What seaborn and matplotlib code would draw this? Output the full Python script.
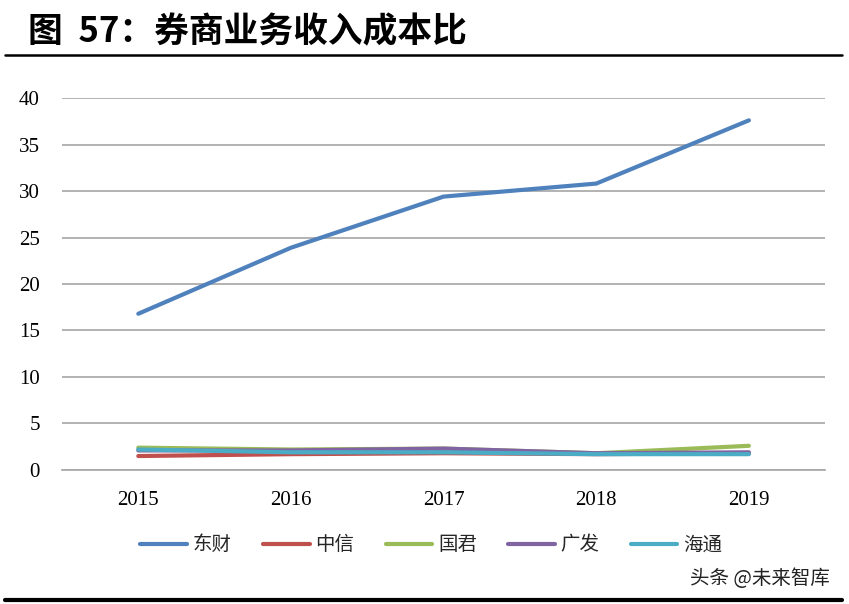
import matplotlib.pyplot as plt
import pandas as pd
import seaborn as sns
from matplotlib.lines import Line2D

# data
years = ['2015', '2016', '2017', '2018', '2019']
dongcai = [16.8, 23.9, 29.4, 30.8, 37.6]
zhongxin = [1.5, 1.7, 1.8, 1.7, 1.8]
guojun = [2.4, 2.2, 2.3, 1.8, 2.6]
guangfa = [2.1, 2.1, 2.3, 1.8, 1.9]
haitong = [2.2, 1.9, 1.9, 1.7, 1.7]

names = ['东财', '中信', '国君', '广发', '海通']
colors = ['#4F81BD', '#C0504D', '#9BBB59', '#8064A2', '#4BACC6']

df = pd.DataFrame({'year': years * 5,
                   'value': dongcai + zhongxin + guojun + guangfa + haitong,
                   'name': [n for n in names for _ in years]})

sns.set_style('white')
plt.rcParams['font.family'] = ['Liberation Serif', 'Noto Sans CJK SC', 'DejaVu Sans']

fig = plt.figure(figsize=(8.49, 6.04), dpi=100)
ax = fig.add_axes([0.073, 0.2219, 0.899, 0.6158])

sns.lineplot(data=df, x='year', y='value', hue='name', hue_order=names,
             palette=colors, linewidth=3, ax=ax, legend=False, sort=False)

ax.set_xlim(-0.5, 4.5)
ax.set_ylim(0, 40)
ax.set_yticks(range(0, 41, 5))
ax.yaxis.grid(True, color='#A6A6A6', linewidth=1.2)
ax.set_axisbelow(True)
for s in ['top', 'right', 'left']:
    ax.spines[s].set_visible(False)
ax.spines['bottom'].set_color('#A6A6A6')
ax.spines['bottom'].set_linewidth(1.2)
ax.tick_params(axis='both', length=0, labelsize=15, colors='black')
ax.tick_params(axis='x', pad=15)
ax.tick_params(axis='y', pad=16)
ax.set_xlabel('')
ax.set_ylabel('')

# legend
handles = [Line2D([0], [0], color=c, linewidth=3) for c in colors]
fig.legend(handles, names, loc='center', bbox_to_anchor=(0.508, 0.098), ncol=5,
           frameon=False, handlelength=2.4, handletextpad=0.3, columnspacing=1.6,
           prop={'family': 'Noto Sans CJK SC', 'size': 14})

# title and rules
fig.text(0.033, 0.947, '图  57：券商业务收入成本比', fontsize=25, fontweight='bold',
         family=['Noto Sans CJK SC'], va='center', ha='left', color='black')
fig.add_artist(Line2D([0.006, 0.992], [0.909, 0.909], color='black', linewidth=1.8))
fig.add_artist(Line2D([0.006, 0.992], [0.006, 0.006], color='black', linewidth=3))
fig.text(0.978, 0.043, '头条 @未来智库', fontsize=14, family=['Noto Sans CJK SC'],
         color='#222222', ha='right', va='center')

fig.savefig('out.png', dpi=100)
